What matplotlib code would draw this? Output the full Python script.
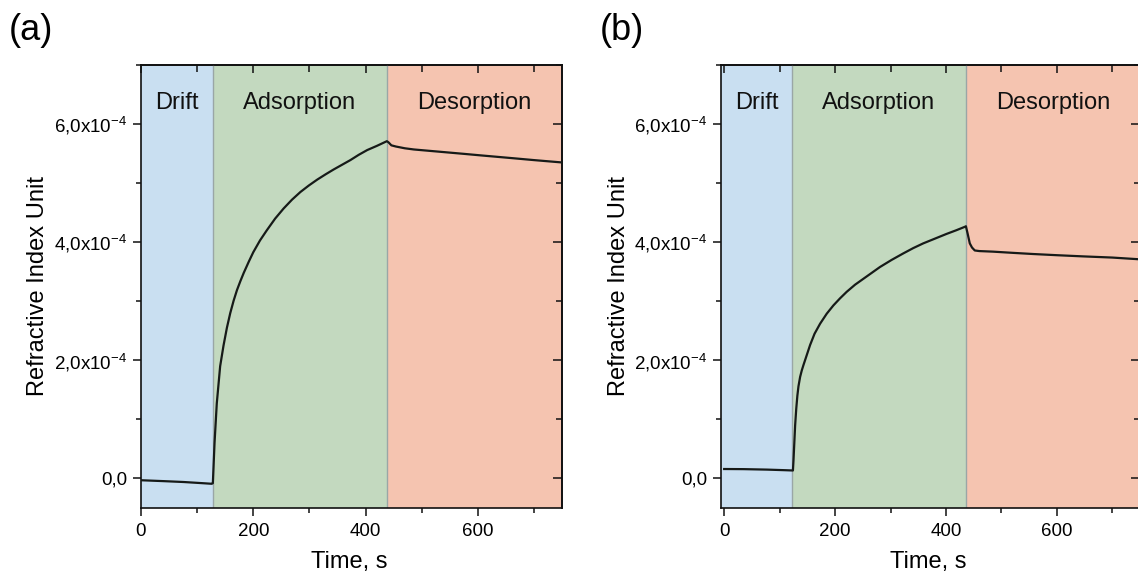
import matplotlib
matplotlib.use("Agg")
import matplotlib.pyplot as plt
from matplotlib.ticker import MultipleLocator, FuncFormatter

plt.rcParams['font.family'] = ['Liberation Sans', 'DejaVu Sans']
plt.rcParams['mathtext.fontset'] = 'custom'
plt.rcParams['mathtext.rm'] = 'Liberation Sans'
plt.rcParams['mathtext.it'] = 'Liberation Sans:italic'
plt.rcParams['mathtext.bf'] = 'Liberation Sans:bold'

# ---------------- data (RIU values in units of 1e-4) ----------------
time_a = [0, 40, 76, 110, 126, 128, 131, 135, 141, 147, 153, 159, 165, 171, 177, 183, 192,
          200, 212, 224, 239, 254, 269, 284, 299, 314, 329, 343, 358, 373, 388, 403, 420,
          438, 441, 446, 454, 470, 486, 516, 546, 576, 605, 635, 665, 700, 750]
riu_a = [-0.03, -0.045, -0.06, -0.08, -0.09, -0.08, 0.6, 1.27, 1.9, 2.25, 2.55, 2.80, 3.01,
         3.19, 3.34, 3.48, 3.67, 3.83, 4.03, 4.20, 4.40, 4.57, 4.72, 4.85, 4.96, 5.06, 5.15,
         5.23, 5.31, 5.39, 5.48, 5.56, 5.63, 5.71, 5.69, 5.64, 5.62, 5.59, 5.57, 5.545, 5.52,
         5.495, 5.47, 5.445, 5.42, 5.39, 5.35]

time_b = [0, 35, 77, 110, 124, 125, 126.5, 128, 130, 132, 134, 137, 140, 143, 149, 155, 163,
          173, 185, 197, 209, 221, 236, 251, 266, 281, 302, 323, 341, 359, 380, 401, 418, 434,
          436, 439, 443, 447, 452, 460, 485, 520, 557, 600, 647, 700, 750]
riu_b = [0.16, 0.158, 0.15, 0.14, 0.135, 0.3, 0.6, 0.9, 1.18, 1.40, 1.56, 1.72, 1.83, 1.92,
         2.09, 2.26, 2.45, 2.62, 2.79, 2.93, 3.05, 3.16, 3.28, 3.38, 3.48, 3.58, 3.70, 3.81,
         3.90, 3.98, 4.06, 4.14, 4.20, 4.26, 4.27, 4.15, 3.98, 3.91, 3.86, 3.85, 3.84, 3.82,
         3.80, 3.78, 3.76, 3.74, 3.71]

phase_names = ["Drift", "Adsorption", "Desorption"]
bounds_a = [0, 128, 438, 750]
bounds_b = [-5, 122, 436, 750]
panel_labels = ["(a)", "(b)"]
xlabel = "Time, s"
ylabel = "Refractive Index Unit"

phase_colors = ["#c9dff1", "#c3d9bf", "#f5c4b0"]
SCALE = 1e-4

fig = plt.figure(figsize=(11.38, 5.72), dpi=100)
ax_a = fig.add_axes([141/1138, 64/572, 421/1138, 443/572])
ax_b = fig.add_axes([721.4/1138, 64/572, 418.6/1138, 443/572])


def fmt(v, pos):
    m = v / SCALE
    if abs(m) < 1e-9:
        return "0,0"
    return ("%.1f" % m).replace(".", ",") + r"x10$^{\mathregular{-4}}$"


def draw(ax, t, y, bounds, label, fig_x):
    for i in range(3):
        ax.axvspan(bounds[i], bounds[i + 1], color=phase_colors[i], lw=0, zorder=0)
    for b in bounds[1:3]:
        ax.axvline(b, color="#9aa6a6", lw=1.0, zorder=1)
    ax.plot(t, [v * SCALE for v in y], color="#161a18", lw=1.6, zorder=3)
    ax.set_xlim(bounds[0], bounds[-1])
    ax.set_ylim(-0.5 * SCALE, 7.0 * SCALE)
    for i in range(3):
        ax.text((bounds[i] + bounds[i + 1]) / 2, 6.36 * SCALE, phase_names[i],
                ha="center", va="center", fontsize=17, color="#111111")
    ax.xaxis.set_major_locator(MultipleLocator(200))
    ax.xaxis.set_minor_locator(MultipleLocator(100))
    ax.yaxis.set_major_locator(MultipleLocator(2 * SCALE))
    ax.yaxis.set_minor_locator(MultipleLocator(1 * SCALE))
    ax.yaxis.set_major_formatter(FuncFormatter(fmt))
    ax.tick_params(which="both", direction="out", top=False, right=False,
                   labelsize=13.5, width=1.1, color="#111111")
    ax.tick_params(which="major", length=6)
    ax.tick_params(which="minor", length=3.5)
    ax.tick_params(axis="x", pad=5)
    ax.tick_params(axis="y", pad=4)
    # mirrored inward ticks on top/right
    sec_x = ax.secondary_xaxis("top")
    sec_x.xaxis.set_major_locator(MultipleLocator(200))
    sec_x.xaxis.set_minor_locator(MultipleLocator(100))
    sec_x.tick_params(which="both", direction="in", labeltop=False, width=1.1, color="#111111")
    sec_x.tick_params(which="major", length=6)
    sec_x.tick_params(which="minor", length=5)
    sec_x.spines["top"].set_linewidth(1.2)
    sec_y = ax.secondary_yaxis("right")
    sec_y.yaxis.set_major_locator(MultipleLocator(2 * SCALE))
    sec_y.yaxis.set_minor_locator(MultipleLocator(1 * SCALE))
    sec_y.tick_params(which="both", direction="in", labelright=False, width=1.1, color="#111111")
    sec_y.tick_params(which="major", length=6.5)
    sec_y.tick_params(which="minor", length=4)
    sec_y.spines["right"].set_linewidth(1.2)
    for s in ax.spines.values():
        s.set_linewidth(1.2)
        s.set_color("#111111")
    ax.set_xlabel(xlabel, fontsize=17)
    ax.set_ylabel(ylabel, fontsize=17)
    ax.xaxis.set_label_coords(0.494, -0.098)
    ax.yaxis.set_label_coords(-0.218, 0.5)
    fig.text(fig_x, 1 - 30 / 572, label, fontsize=26, ha="left", va="center")


draw(ax_a, time_a, riu_a, bounds_a, panel_labels[0], 9 / 1138)
draw(ax_b, time_b, riu_b, bounds_b, panel_labels[1], 600 / 1138)

fig.savefig("out.png", dpi=100)
